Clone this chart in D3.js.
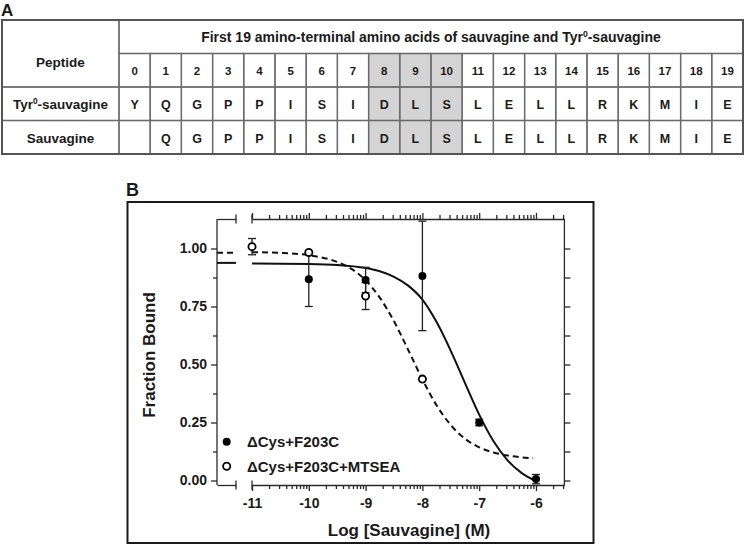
<!DOCTYPE html>
<html>
<head>
<meta charset="utf-8">
<script src="https://cdn.jsdelivr.net/npm/d3@7"></script>
<style>
  body { margin: 0; background: #fff; }
  text { font-family: "Liberation Sans", Arial, Helvetica, sans-serif; font-weight: bold; fill: #1a1a1a; }
</style>
</head>
<body>
<svg id="chart" width="745" height="545"></svg>
<script>
// ---------------- DATA ----------------
// Panel A table
const tableTitle = "First 19 amino-terminal amino acids of sauvagine and Tyr0-sauvagine";
const positionLabels = ["0","1","2","3","4","5","6","7","8","9","10","11","12","13","14","15","16","17","18","19"];
const highlightedPositions = ["8","9","10"];
const peptideNames = ["Tyr0-sauvagine", "Sauvagine"];
const tyr0Sequence = ["Y","Q","G","P","P","I","S","I","D","L","S","L","E","L","L","R","K","M","I","E"];
const sauvagineSequence = ["","Q","G","P","P","I","S","I","D","L","S","L","E","L","L","R","K","M","I","E"];

// Panel B plot
const seriesNames = ["\u0394Cys+F203C", "\u0394Cys+F203C+MTSEA"];
const xTickValues = [-11, -10, -9, -8, -7, -6];
const yTickValues = [0, 0.25, 0.5, 0.75, 1.0];

const filledLogConc = [-10, -9, -8, -7, -6];
const filledMean    = [0.867, 0.864, 0.882, 0.250, 0.006];
const filledErr     = [0.117, 0.055, 0.236, 0.014, 0.020];

const openLogConc = [-11, -10, -9, -8];
const openMean    = [1.008, 0.983, 0.795, 0.437];
const openErr     = [0.035, 0.000, 0.058, 0.000];

// fitted curves
const solidCurveX = [-11, -10, -9.5, -9, -8.75, -8.5, -8.25, -8, -7.75, -7.5, -7.25, -7, -6.75, -6.5, -6.25, -6];
const solidCurveY = [0.935, 0.933, 0.929, 0.916, 0.902, 0.878, 0.840, 0.780, 0.683, 0.559, 0.420, 0.284, 0.170, 0.087, 0.032, -0.002];
const dashedCurveX = [-11, -10.5, -10, -9.5, -9.25, -9, -8.75, -8.5, -8.25, -8, -7.75, -7.5, -7.25, -7, -6.75, -6.5, -6.25, -6.05];
const dashedCurveY = [0.984, 0.981, 0.971, 0.942, 0.912, 0.863, 0.788, 0.686, 0.563, 0.436, 0.324, 0.239, 0.180, 0.143, 0.121, 0.108, 0.100, 0.096];
// plateau values drawn in the axis-break (no agonist) segment
const solidPlateau = 0.938;
const dashedPlateau = 0.982;

// ---------------- DRAW ----------------
const svg = d3.select("#chart");
svg.append("rect").attr("width", 745).attr("height", 545).attr("fill", "#fff");

const gridColor = "#6a6a6a";

// ---- Panel A ----
svg.append("text").attr("x", 1).attr("y", 15.5).style("font-size", "17px").text("A");

const colX = d3.scaleBand().domain(positionLabels).range([119, 743]);
const rowY = d3.scaleBand().domain(["title", "pos", "tyr", "sauv"]).range([20, 154]);
const bw = colX.bandwidth(), bh = rowY.bandwidth();
const tA = svg.append("g");

// highlighted cells
tA.selectAll("rect.hl").data(highlightedPositions).join("rect")
  .attr("x", d => colX(d)).attr("y", rowY("pos"))
  .attr("width", bw).attr("height", 154 - rowY("pos"))
  .attr("fill", "#d4d4d4");

// grid: title cell, peptide cell, sequence cells, row-label cells
const cellStroke = sel => sel.attr("fill", "none").attr("stroke", gridColor).attr("stroke-width", 1.3);
tA.append("rect").attr("x", 119).attr("y", rowY("title")).attr("width", 624).attr("height", bh).call(cellStroke);
tA.append("rect").attr("x", 2).attr("y", rowY("title")).attr("width", 117).attr("height", 2 * bh).call(cellStroke);
["pos", "tyr", "sauv"].forEach(r => {
  tA.selectAll(null).data(positionLabels).join("rect")
    .attr("x", d => colX(d)).attr("y", rowY(r)).attr("width", bw).attr("height", bh).call(cellStroke);
});
["tyr", "sauv"].forEach(r => {
  tA.append("rect").attr("x", 2).attr("y", rowY(r)).attr("width", 117).attr("height", bh).call(cellStroke);
});
tA.append("rect").attr("x", 2).attr("y", 20).attr("width", 741).attr("height", 134)
  .attr("fill", "none").attr("stroke", "#555").attr("stroke-width", 2);

// title with superscript
function supText(g, str, x, yb, size) {
  const t = g.append("text").attr("x", x).attr("y", yb).attr("text-anchor", "middle").style("font-size", size + "px");
  const i = str.indexOf("Tyr0");
  if (i < 0) { t.text(str); return t; }
  t.append("tspan").text(str.slice(0, i + 3));
  t.append("tspan").attr("dy", -5).style("font-size", (size * 0.62) + "px").text("0");
  t.append("tspan").attr("dy", 5).text(str.slice(i + 4));
  return t;
}
supText(tA, tableTitle, 431, rowY("title") + 21.5, 14);
tA.append("text").attr("x", 60.5).attr("y", 66.5).attr("text-anchor", "middle").style("font-size", "13.5px").text("Peptide");

tA.selectAll("text.num").data(positionLabels).join("text")
  .attr("x", d => colX(d) + bw / 2).attr("y", rowY("pos") + 21.5)
  .attr("text-anchor", "middle")
  .style("font-family", "'Liberation Sans Narrow', 'Arial Narrow', sans-serif")
  .style("font-size", "11.5px").text(d => d);

const seqRows = [["tyr", tyr0Sequence], ["sauv", sauvagineSequence]];
seqRows.forEach(([r, seq], k) => {
  supText(tA, peptideNames[k], 60.5, rowY(r) + 22.3, 13.5);
  tA.selectAll(null).data(seq).join("text")
    .attr("x", (d, i) => colX(positionLabels[i]) + bw / 2).attr("y", rowY(r) + 22.2)
    .attr("text-anchor", "middle")
    .style("font-size", (d, i) => i === 0 ? "12.5px" : "12.5px")
    .style("font-family", (d, i) => i === 0 ? "'Liberation Sans Narrow', 'Arial Narrow', sans-serif" : null)
    .text(d => d);
});

// ---- Panel B ----
svg.append("text").attr("x", 126).attr("y", 196).style("font-size", "18px").text("B");
svg.append("rect").attr("x", 127.5).attr("y", 202).attr("width", 466).attr("height", 341)
  .attr("fill", "none").attr("stroke", "#1a1a1a").attr("stroke-width", 2);

const x = d3.scaleLinear().domain([-11, -5.5]).range([252, 564.4]);
const y = d3.scaleLinear().domain([0, 1]).range([480.5, 248.5]);
const xb = d3.scaleLinear().domain([0, 1]).range([217, 236]);   // axis-break (control) segment
const frameTop = 219, frameBottom = 485, frameLeft = 217, frameRight = x.range()[1];

const xMinor = xTickValues.flatMap(d => [2, 3, 4, 5, 6, 7, 8, 9].map(k => d + Math.log10(k)))
  .filter(v => v <= x.domain()[1]);
const yMinor = [0.125, 0.375, 0.625, 0.875];
const axisColor = "#2a2a2a";

const styleAxis = g => {
  g.attr("color", axisColor);
  g.selectAll("line").attr("stroke-width", 1.3);
  g.selectAll("path").attr("stroke-width", 1.3);
  g.selectAll("text").style("font-size", "14px").style("font-weight", "bold")
    .style("font-family", "'Liberation Sans', Arial, sans-serif").attr("fill", "#1a1a1a");
};

// bottom axis
svg.append("g").attr("transform", `translate(0,${frameBottom})`)
  .call(d3.axisBottom(x).tickValues(xTickValues).tickSize(6).tickSizeOuter(0).tickPadding(7).tickFormat(d => String(d)))
  .call(styleAxis);
svg.append("g").attr("transform", `translate(0,${frameBottom})`)
  .call(d3.axisBottom(x).tickValues(xMinor).tickSize(4).tickFormat("")).call(g => g.select(".domain").remove())
  .call(styleAxis);
// top axis (mirror)
svg.append("g").attr("transform", `translate(0,${frameTop})`)
  .call(d3.axisTop(x).tickValues(xTickValues).tickSize(6).tickSizeOuter(0).tickFormat(""))
  .call(styleAxis);
svg.append("g").attr("transform", `translate(0,${frameTop})`)
  .call(d3.axisTop(x).tickValues(xMinor).tickSize(4).tickFormat("")).call(g => g.select(".domain").remove())
  .call(styleAxis);
// break segments on top and bottom
[frameTop, frameBottom].forEach(yy => {
  svg.append("g").attr("transform", `translate(0,${yy})`)
    .call(d3.axisBottom(xb).tickValues([]).tickSizeOuter(0)).call(styleAxis);
  [xb(1), x(-11)].forEach(xx => {
    svg.append("line").attr("x1", xx).attr("x2", xx).attr("y1", yy - 4.5).attr("y2", yy + 4.5)
      .attr("stroke", axisColor).attr("stroke-width", 1.3);
  });
});
// left axis
svg.append("g").attr("transform", `translate(${frameLeft},0)`)
  .call(d3.axisLeft(y).tickValues(yTickValues).tickSize(6).tickPadding(4).tickFormat(d3.format(".2f")))
  .call(g => g.select(".domain").remove()).call(styleAxis);
svg.append("g").attr("transform", `translate(${frameLeft},0)`)
  .call(d3.axisLeft(y).tickValues(yMinor).tickSize(4).tickFormat(""))
  .call(g => g.select(".domain").remove()).call(styleAxis);
svg.append("line").attr("x1", frameLeft).attr("x2", frameLeft).attr("y1", frameTop).attr("y2", frameBottom)
  .attr("stroke", axisColor).attr("stroke-width", 1.3);
// right axis
svg.append("g").attr("transform", `translate(${frameRight},0)`)
  .call(d3.axisRight(y).tickValues(yTickValues.concat(yMinor)).tickSize(6).tickFormat(""))
  .call(g => g.select(".domain").remove()).call(styleAxis);
svg.append("line").attr("x1", frameRight).attr("x2", frameRight).attr("y1", frameTop).attr("y2", frameBottom)
  .attr("stroke", axisColor).attr("stroke-width", 1.3);

// axis titles
svg.append("text").attr("x", 409).attr("y", 535.5).attr("text-anchor", "middle").style("font-size", "17px")
  .text("Log [Sauvagine] (M)");
svg.append("text").attr("transform", "translate(155,355) rotate(-90)").attr("text-anchor", "middle")
  .style("font-size", "17px").text("Fraction Bound");

// curves
const line = d3.line().x(d => x(d[0])).y(d => y(d[1])).curve(d3.curveMonotoneX);
const solidData = solidCurveX.map((v, i) => [v, solidCurveY[i]]);
const dashedData = dashedCurveX.map((v, i) => [v, dashedCurveY[i]]);
svg.append("path").datum(solidData).attr("d", line).attr("fill", "none").attr("stroke", "#111").attr("stroke-width", 2);
svg.append("path").datum(dashedData).attr("d", line).attr("fill", "none").attr("stroke", "#111").attr("stroke-width", 2)
  .attr("stroke-dasharray", "6,4");
// plateau in break segment
svg.append("line").attr("x1", xb(0)).attr("x2", xb(1)).attr("y1", y(solidPlateau)).attr("y2", y(solidPlateau))
  .attr("stroke", "#111").attr("stroke-width", 2);
svg.append("line").attr("x1", xb(0)).attr("x2", xb(1)).attr("y1", y(dashedPlateau)).attr("y2", y(dashedPlateau))
  .attr("stroke", "#111").attr("stroke-width", 2).attr("stroke-dasharray", "6,4");

// error bars
function errorBars(xs, ms, es) {
  const g = svg.append("g").attr("stroke", "#222").attr("stroke-width", 1.3);
  xs.forEach((xv, i) => {
    if (es[i] <= 0) return;
    const cx = x(xv), y0 = y(ms[i] - es[i]), y1 = y(ms[i] + es[i]);
    g.append("line").attr("x1", cx).attr("x2", cx).attr("y1", y0).attr("y2", y1);
    g.append("line").attr("x1", cx - 4).attr("x2", cx + 4).attr("y1", y0).attr("y2", y0);
    g.append("line").attr("x1", cx - 4).attr("x2", cx + 4).attr("y1", y1).attr("y2", y1);
  });
}
errorBars(filledLogConc, filledMean, filledErr);
errorBars(openLogConc, openMean, openErr);

// markers
svg.append("g").selectAll("circle").data(filledLogConc).join("circle")
  .attr("cx", d => x(d)).attr("cy", (d, i) => y(filledMean[i])).attr("r", 4).attr("fill", "#000");
svg.append("g").selectAll("circle").data(openLogConc).join("circle")
  .attr("cx", d => x(d)).attr("cy", (d, i) => y(openMean[i])).attr("r", 3.6)
  .attr("fill", "#fff").attr("stroke", "#000").attr("stroke-width", 1.8);

// legend
const leg = svg.append("g");
seriesNames.forEach((name, i) => {
  const ly = 441.7 + i * 24.5;
  leg.append("circle").attr("cx", 226.7).attr("cy", ly).attr("r", i === 0 ? 4 : 3.6)
    .attr("fill", i === 0 ? "#000" : "#fff").attr("stroke", "#000").attr("stroke-width", i === 0 ? 0 : 1.8);
  leg.append("text").attr("x", 247).attr("y", ly + 5.5).style("font-size", "15px").text(name);
});
</script>
</body>
</html>
